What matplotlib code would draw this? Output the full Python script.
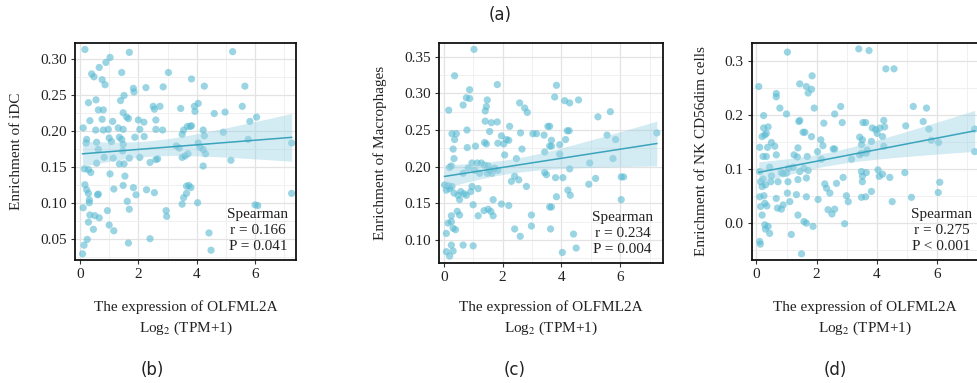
import numpy as np
import matplotlib
matplotlib.use('Agg')
import matplotlib.pyplot as plt
from matplotlib.ticker import MultipleLocator

plt.rcParams['font.family'] = ['Liberation Serif', 'DejaVu Serif']
plt.rcParams['mathtext.fontset'] = 'stix'

# ---------------------------------------------------------------- data
# OLFML2A expression, Log2(TPM+1), against immune cell enrichment scores

x_idc = [0.17, 1.69, 1.03, 0.89, 0.66, 0.40, 0.48, 1.43, 0.76, 0.86, 1.83, 1.85, 2.26, 2.85,
         3.03, 0.29, 0.55, 1.39, 1.51, 0.63, 0.80, 2.51, 2.74, 1.48, 1.60, 1.66, 0.76, 1.12,
         2.00, 2.19, 2.60, 0.34, 0.11, 0.54, 0.80, 0.97, 1.31, 1.48, 2.05, 2.60, 2.83, 1.88,
         2.20, 0.23, 0.21, 1.00, 1.35, 1.43, 1.08, 0.57, 1.48, 0.63, 0.83, 1.14, 1.46, 1.69,
         2.05, 1.35, 1.51, 2.40, 2.66, 0.15, 0.29, 0.37, 0.57, 1.03, 1.54, 1.48, 1.83, 1.16,
         1.92, 2.28, 2.55, 0.17, 0.23, 0.29, 0.63, 0.32, 0.32, 0.11, 0.34, 0.51, 0.66, 0.94,
         1.62, 1.69, 2.95, 2.97, 0.29, 0.46, 1.00, 1.16, 0.25, 0.14, 0.09, 1.66, 2.40, 0.60,
         5.23, 3.82, 4.26, 5.65, 4.05, 3.92, 3.94, 4.60, 4.97, 5.56, 5.82, 6.05, 3.82, 4.22,
         4.26, 4.91, 5.76, 7.25, 4.05, 4.11, 4.22, 4.30, 4.22, 5.17, 3.65, 3.73, 3.65, 4.03,
         6.00, 6.09, 7.25, 4.42, 4.49, 3.45, 3.50, 3.55, 3.68, 3.78, 3.60, 3.50, 3.70, 3.40,
         3.30, 3.55, 3.50, 3.80, 2.60, 2.55]
y_idc = [0.313, 0.309, 0.302, 0.295, 0.288, 0.279, 0.275, 0.281, 0.271, 0.264, 0.259, 0.254,
         0.260, 0.261, 0.281, 0.239, 0.243, 0.242, 0.249, 0.229, 0.229, 0.234, 0.234, 0.225,
         0.219, 0.217, 0.216, 0.213, 0.215, 0.212, 0.215, 0.214, 0.204, 0.201, 0.201, 0.202,
         0.204, 0.202, 0.202, 0.202, 0.201, 0.191, 0.192, 0.188, 0.183, 0.190, 0.191, 0.188,
         0.185, 0.184, 0.181, 0.174, 0.163, 0.162, 0.172, 0.162, 0.163, 0.154, 0.154, 0.156,
         0.161, 0.147, 0.146, 0.142, 0.155, 0.140, 0.137, 0.124, 0.121, 0.119, 0.111, 0.118,
         0.114, 0.125, 0.118, 0.113, 0.112, 0.104, 0.100, 0.093, 0.083, 0.082, 0.079, 0.089,
         0.102, 0.091, 0.089, 0.081, 0.073, 0.063, 0.069, 0.061, 0.049, 0.041, 0.029, 0.044,
         0.050, 0.111, 0.310, 0.272, 0.262, 0.262, 0.238, 0.234, 0.227, 0.224, 0.226, 0.234,
         0.213, 0.219, 0.207, 0.201, 0.193, 0.198, 0.188, 0.183, 0.183, 0.177, 0.174, 0.168,
         0.151, 0.159, 0.123, 0.124, 0.113, 0.100, 0.097, 0.096, 0.113, 0.058, 0.034, 0.231,
         0.195, 0.201, 0.206, 0.206, 0.165, 0.163, 0.168, 0.176, 0.179, 0.107, 0.098, 0.121,
         0.160, 0.230]

x_mac = [1.03, 0.37, 1.82, 0.88, 0.77, 0.88, 0.66, 1.48, 1.45, 1.41, 0.17, 2.58, 2.75, 2.84,
         1.41, 1.62, 1.82, 0.79, 0.28, 0.43, 0.37, 1.56, 2.61, 3.03, 2.24, 3.15, 3.41, 3.54,
         1.96, 2.13, 2.21, 1.39, 1.45, 1.84, 2.04, 1.08, 0.80, 0.32, 2.66, 2.07, 2.47, 3.43,
         3.60, 0.35, 0.26, 0.20, 0.96, 1.14, 1.28, 1.39, 1.51, 0.83, 1.05, 1.56, 1.73, 1.84,
         1.48, 1.64, 1.22, 0.66, 2.41, 2.30, 2.55, 2.81, 3.43, 3.49, 0.03, 0.15, 0.20, 0.28,
         0.09, 0.35, 0.49, 0.58, 0.69, 0.77, 0.54, 0.96, 1.17, 0.92, 1.68, 1.96, 2.21, 1.00,
         1.51, 1.60, 1.37, 1.17, 1.68, 2.98, 3.60, 0.46, 0.54, 0.26, 0.26, 0.15, 0.32, 0.40,
         0.09, 2.41, 2.60, 2.98, 3.63, 0.26, 0.66, 1.00, 0.09, 0.20, 0.32,
         3.83, 3.77, 4.11, 4.28, 4.58, 5.24, 5.66, 4.26, 4.20, 5.55, 5.84, 3.60, 3.66, 3.94,
         4.14, 3.66, 3.94, 7.24, 5.75, 4.96, 4.28, 3.80, 4.05, 5.16, 4.93, 6.03, 6.11, 4.22,
         4.30, 3.83, 3.66, 6.03, 4.41, 4.03, 4.50]
y_mac = [0.360, 0.324, 0.312, 0.305, 0.294, 0.293, 0.284, 0.291, 0.282, 0.276, 0.277, 0.287,
         0.280, 0.274, 0.262, 0.260, 0.261, 0.250, 0.245, 0.245, 0.237, 0.248, 0.246, 0.245,
         0.255, 0.245, 0.243, 0.255, 0.242, 0.237, 0.236, 0.233, 0.231, 0.232, 0.231, 0.228,
         0.226, 0.224, 0.224, 0.216, 0.211, 0.220, 0.228, 0.211, 0.201, 0.199, 0.205, 0.205,
         0.205, 0.202, 0.201, 0.198, 0.195, 0.195, 0.198, 0.195, 0.191, 0.191, 0.191, 0.191,
         0.187, 0.180, 0.182, 0.173, 0.192, 0.189, 0.175, 0.174, 0.170, 0.173, 0.168, 0.164,
         0.161, 0.166, 0.163, 0.161, 0.155, 0.173, 0.170, 0.166, 0.155, 0.149, 0.147, 0.148,
         0.142, 0.139, 0.140, 0.133, 0.133, 0.134, 0.145, 0.139, 0.134, 0.133, 0.125, 0.123,
         0.116, 0.114, 0.109, 0.115, 0.105, 0.119, 0.115, 0.093, 0.093, 0.092, 0.084, 0.078,
         0.085,
         0.311, 0.295, 0.290, 0.287, 0.291, 0.268, 0.275, 0.249, 0.249, 0.243, 0.237, 0.255,
         0.236, 0.230, 0.237, 0.228, 0.217, 0.246, 0.211, 0.205, 0.197, 0.185, 0.185, 0.184,
         0.176, 0.186, 0.186, 0.168, 0.161, 0.159, 0.145, 0.155, 0.108, 0.083, 0.089]

x_nk = [1.03, 3.40, 0.08, 1.44, 1.66, 1.83, 1.72, 1.85, 0.66, 0.66, 0.78, 1.92, 1.00, 0.24,
        1.44, 1.41, 2.60, 2.80, 2.85, 2.24, 0.24, 0.39, 0.19, 0.28, 0.33, 1.61, 1.55, 1.83,
        3.54, 0.50, 0.61, 0.37, 0.11, 0.22, 0.33, 0.66, 1.38, 1.25, 1.36, 1.69, 2.03, 2.21,
        2.14, 2.55, 2.60, 2.16, 3.16, 3.43, 0.44, 0.11, 0.22, 0.50, 0.72, 0.83, 0.89, 1.00,
        1.07, 1.22, 1.44, 1.58, 1.38, 1.05, 0.48, 0.30, 0.11, 0.25, 0.28, 0.35, 0.66, 0.89,
        1.03, 0.70, 0.83, 1.11, 1.33, 1.38, 1.66, 2.05, 2.27, 2.33, 2.44, 2.66, 2.88, 2.99,
        3.05, 2.38, 2.51, 2.60, 2.93, 3.49, 0.14, 0.19, 1.66, 1.72, 0.14, 0.19, 0.28, 0.39,
        0.30, 0.44, 1.16, 1.58, 1.66, 1.88, 0.11, 0.13, 1.50,
        3.74, 4.30, 4.57, 5.21, 5.65, 3.63, 3.85, 4.10, 4.26, 4.23, 4.01, 3.96, 4.19, 3.52,
        3.82, 3.43, 3.49, 3.68, 4.23, 4.96, 5.54, 5.73, 5.81, 6.05, 7.25, 7.25, 3.49, 3.65,
        4.04, 4.08, 4.19, 4.43, 4.93, 3.52, 3.52, 3.82, 3.63, 6.09, 6.04, 5.15, 4.51, 3.49,
        3.65]
y_nk = [0.317, 0.323, 0.253, 0.258, 0.253, 0.248, 0.241, 0.273, 0.240, 0.234, 0.213, 0.213,
        0.202, 0.199, 0.190, 0.188, 0.202, 0.216, 0.186, 0.185, 0.176, 0.178, 0.160, 0.163,
        0.166, 0.168, 0.168, 0.160, 0.186, 0.149, 0.142, 0.140, 0.140, 0.123, 0.123, 0.126,
        0.139, 0.126, 0.122, 0.123, 0.132, 0.143, 0.154, 0.137, 0.137, 0.118, 0.118, 0.126,
        0.103, 0.095, 0.081, 0.087, 0.076, 0.093, 0.091, 0.092, 0.101, 0.103, 0.095, 0.101,
        0.080, 0.076, 0.076, 0.070, 0.048, 0.050, 0.036, 0.031, 0.045, 0.033, 0.055, 0.027,
        0.025, 0.039, 0.052, 0.014, 0.048, 0.043, 0.072, 0.064, 0.055, 0.073, 0.084, 0.050,
        0.039, 0.024, 0.016, 0.025, -0.002, 0.047, 0.076, 0.067, 0.083, 0.097, 0.030, 0.014,
        -0.004, -0.007, -0.012, -0.020, -0.022, 0.002, -0.001, -0.007, -0.035, -0.040, -0.058,
        0.320, 0.286, 0.286, 0.216, 0.213, 0.186, 0.176, 0.176, 0.178, 0.190, 0.166, 0.173,
        0.160, 0.154, 0.151, 0.159, 0.145, 0.135, 0.142, 0.180, 0.188, 0.174, 0.153, 0.149,
        0.174, 0.132, 0.095, 0.093, 0.098, 0.086, 0.090, 0.084, 0.093, 0.086, 0.076, 0.058,
        0.048, 0.075, 0.056, 0.047, 0.039, 0.129, 0.129]

ylabels = ['Enrichment of iDC', 'Enrichment of Macrophages', 'Enrichment of NK CD56dim cells']
r_vals = ['0.166', '0.234', '0.275']
p_vals = ['P = 0.041', 'P = 0.004', 'P < 0.001']
tags = ['(b)', '(c)', '(d)']

# ---------------------------------------------------------------- layout
W, H = 977, 383
boxes = [(75, 43, 296, 260), (439, 43, 663, 262.7), (752, 43, 978, 260)]  # px: l, t, r, b
xlims = [(-0.17, 7.40), (-0.16, 7.45), (-0.146, 7.36)]
ylims = [(0.0204, 0.322), (0.069, 0.3687), (-0.0695, 0.334)]
ysteps = [0.05, 0.05, 0.1]
ylab_x = [-0.266, -0.263, -0.222]
stat_x = [0.828, 0.82, 0.838]
tag_x = [152, 515, 835]

pt_col = '#58bad2'
line_col = '#3aa4bd'
band_col = '#9fd3e3'


def lm_band(x, y, n=100):
    x = np.asarray(x)
    y = np.asarray(y)
    b1, b0 = np.polyfit(x, y, 1)
    xs = np.linspace(x.min(), x.max(), n)
    fit = b0 + b1*xs
    res = y - (b0 + b1*x)
    s = np.sqrt(np.sum(res**2)/(len(x) - 2))
    se = s*np.sqrt(1.0/len(x) + (xs - x.mean())**2/np.sum((x - x.mean())**2))
    return xs, fit, fit - 1.97*se, fit + 1.97*se


fig = plt.figure(figsize=(W/100, H/100), dpi=100)
data = [(x_idc, y_idc), (x_mac, y_mac), (x_nk, y_nk)]

for i, (xv, yv) in enumerate(data):
    l, t, r, b = boxes[i]
    ax = fig.add_axes([l/W, 1 - b/H, (r - l)/W, (b - t)/H])
    ax.set_facecolor('white')
    ax.grid(which='major', color='#e3e3e3', lw=0.9, zorder=0)
    ax.grid(which='minor', color='#eeeeee', lw=0.6, zorder=0)
    ax.set_axisbelow(True)

    ax.scatter(xv, yv, s=27, color=pt_col, alpha=0.6, edgecolors='none', zorder=2)
    xs, fit, lo, hi = lm_band(xv, yv)
    ax.fill_between(xs, lo, hi, color=band_col, alpha=0.45, lw=0, zorder=3)
    ax.plot(xs, fit, color=line_col, lw=1.1, zorder=4)

    ax.set_xlim(*xlims[i])
    ax.set_ylim(*ylims[i])
    ax.xaxis.set_major_locator(MultipleLocator(2))
    ax.xaxis.set_minor_locator(MultipleLocator(1))
    ax.yaxis.set_major_locator(MultipleLocator(ysteps[i]))
    ax.yaxis.set_minor_locator(MultipleLocator(ysteps[i]/2))
    if ysteps[i] < 0.1:
        ax.yaxis.set_major_formatter(plt.FormatStrFormatter('%.2f'))
    else:
        ax.yaxis.set_major_formatter(plt.FormatStrFormatter('%.1f'))
    ax.tick_params(which='major', length=3, width=0.8, color='#333333',
                   labelsize=11, labelcolor='#222222', pad=3)
    ax.tick_params(which='minor', length=0)
    for sp in ax.spines.values():
        sp.set_linewidth(1.3)
        sp.set_color('#111111')

    ax.set_ylabel(ylabels[i], fontsize=11, color='#222222', va='center')
    ax.yaxis.set_label_coords(ylab_x[i], 0.5)

    ax.text(stat_x[i], 0.03, 'Spearman\nr = ' + r_vals[i] + '\n' + p_vals[i],
            transform=ax.transAxes, ha='center', va='bottom', multialignment='center',
            fontsize=11, color='#222222', linespacing=1.3, zorder=5)

    cx = (l + r)/2/W
    fig.text(cx, 1 - 307/H, 'The expression of OLFML2A', ha='center', va='center',
             fontsize=11, color='#222222')
    fig.text(cx, 1 - 328/H, 'Log$_2$ (TPM+1)', ha='center', va='center',
             fontsize=11, color='#222222')
    fig.text(tag_x[i]/W, 1 - 370/H, tags[i], ha='center', va='center',
             fontsize=12, color='#222222', family=['Liberation Sans Narrow', 'DejaVu Sans'])

fig.text(500/W, 1 - 15/H, '(a)', ha='center', va='center', fontsize=12, color='#222222',
         family=['Liberation Sans Narrow', 'DejaVu Sans'])

fig.savefig('out.png', dpi=100)
